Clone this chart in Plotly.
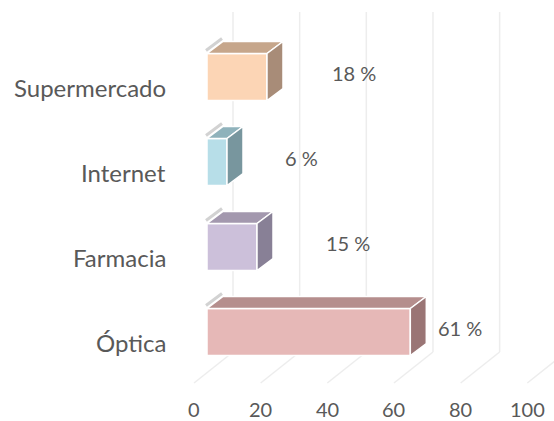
import plotly.graph_objects as go

# ---- data ----
categories = ["Óptica", "Farmacia", "Internet", "Supermercado"]
values = [61, 15, 6, 18]
value_labels = ["61 %", "15 %", "6 %", "18 %"]
x_ticks = [0, 20, 40, 60, 80, 100]

# ---- style ----
front_colors = ["#E6B8B7", "#CCC0DA", "#B7DEE8", "#FCD5B5"]
top_colors = ["#B58E8D", "#A398AE", "#8FB2BB", "#C6A68B"]
side_colors = ["#9A7575", "#888096", "#78969E", "#A88C78"]
label_xshift = [50, 91, 74, 87]  # pixel offsets of value labels from bar ends

W, H = 554, 421
PX_X = 3.333          # px per value unit
X0_PX = 207           # px of value 0 on bar front plane
PX_Y = 85             # px per category step
Y0_PX = 332           # px of first category centre

def ux(px):  # horizontal px distance -> value units
    return px / PX_X

def uy(px):  # vertical px distance (upwards) -> category units
    return px / PX_Y

bar_w = uy(47)
dxb, dyb = ux(16), uy(12)        # bar depth offset
front_off = ux(-13)              # floor front plane relative to bar front
back_off = ux(26)                # back wall relative to bar front
floor_front_y = uy(Y0_PX - 383)
floor_back_y = uy(Y0_PX - 352)
wall_top_y = uy(Y0_PX - 12)

fig = go.Figure()

pos = list(range(len(categories)))

# front faces
fig.add_trace(go.Bar(
    y=pos, x=values, orientation="h", width=bar_w, base=0,
    marker=dict(color=front_colors, line=dict(color="white", width=1.5)),
    hoverinfo="skip", showlegend=False,
))

# top and side faces
for i, v in enumerate(values):
    top = pos[i] + bar_w / 2
    bot = pos[i] - bar_w / 2
    fig.add_trace(go.Scatter(
        x=[0, v, v + dxb, dxb, 0], y=[top, top, top + dyb, top + dyb, top],
        fill="toself", fillcolor=top_colors[i], mode="lines",
        line=dict(color="white", width=1.5), hoverinfo="skip", showlegend=False))
    fig.add_trace(go.Scatter(
        x=[v, v + dxb, v + dxb, v, v], y=[top, top + dyb, bot + dyb, bot, top],
        fill="toself", fillcolor=side_colors[i], mode="lines",
        line=dict(color="white", width=1.5), hoverinfo="skip", showlegend=False))
    fig.add_trace(go.Scatter(
        x=[-0.3, dxb - 0.3], y=[top + uy(3), top + dyb + uy(3)], mode="lines",
        line=dict(color="#D2D2D2", width=3), hoverinfo="skip", showlegend=False))

shapes = []
for t in x_ticks:
    shapes.append(dict(type="line", xref="x", yref="y", layer="below",
                       x0=t + back_off, x1=t + back_off, y0=floor_back_y, y1=wall_top_y,
                       line=dict(color="#EDEDED", width=1.5)))
    shapes.append(dict(type="line", xref="x", yref="y", layer="below",
                       x0=t + front_off, x1=t + back_off, y0=floor_front_y, y1=floor_back_y,
                       line=dict(color="#EDEDED", width=1.5)))

annotations = []
for t in x_ticks:
    annotations.append(dict(x=t + front_off, y=uy(Y0_PX - 409), xref="x", yref="y",
                            text=str(t), showarrow=False, yanchor="middle",
                            font=dict(family="Lato", size=20, color="#595959")))
for i, c in enumerate(categories):
    annotations.append(dict(x=ux(168 - X0_PX), y=pos[i], xref="x", yref="y",
                            text=c, showarrow=False, xanchor="right", yshift=-10,
                            font=dict(family="Lato", size=24, color="#595959")))
for i, v in enumerate(values):
    annotations.append(dict(x=v, y=pos[i], xref="x", yref="y", text=value_labels[i],
                            showarrow=False, xshift=label_xshift[i], yshift=4,
                            font=dict(family="Lato", size=20, color="#595959")))

fig.update_layout(
    width=W, height=H, autosize=False,
    margin=dict(l=0, r=0, t=0, b=0),
    paper_bgcolor="white", plot_bgcolor="white",
    xaxis=dict(range=[ux(-X0_PX), ux(W - X0_PX)], visible=False, fixedrange=True),
    yaxis=dict(range=[uy(Y0_PX - H), uy(Y0_PX)], visible=False, fixedrange=True),
    shapes=shapes, annotations=annotations, showlegend=False,
)

fig.write_html("out.html", config={"displayModeBar": False},
               post_script="document.body.style.margin='0px';")
